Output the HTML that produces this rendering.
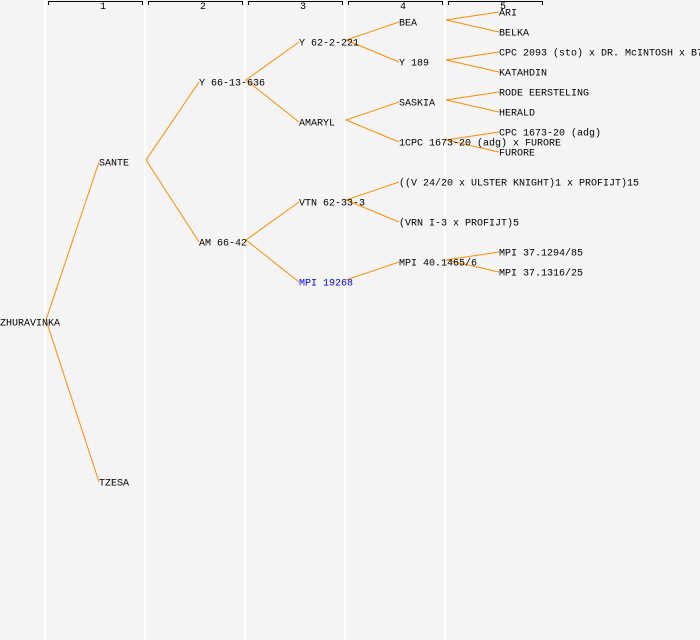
<!DOCTYPE html>
<html><head><meta charset="utf-8"><style>
html,body{margin:0;padding:0;background:#f4f4f4;}
svg{display:block;}
text{font-family:"Liberation Mono",monospace;font-size:10px;fill:#000;}
</style></head><body>
<svg width="700" height="640" viewBox="0 0 700 640">
<rect width="700" height="640" fill="#f4f4f4"/>
<g stroke="#fff" stroke-width="2">
<line x1="45" y1="0" x2="45" y2="640"/><line x1="145" y1="0" x2="145" y2="640"/>
<line x1="245" y1="0" x2="245" y2="640"/><line x1="345" y1="0" x2="345" y2="640"/>
<line x1="445" y1="0" x2="445" y2="640"/>
</g>
<g stroke="#000" stroke-width="1" fill="none">
<path d="M48.5 5V1.5H142.5V5"/><path d="M148.5 5V1.5H242.5V5"/><path d="M248.5 5V1.5H342.5V5"/>
<path d="M348.5 5V1.5H442.5V5"/><path d="M448.5 5V1.5H542.5V5"/>
</g>
<g style="font-size:8px">
<text x="100" y="9">1</text><text x="200" y="9">2</text><text x="300" y="9">3</text><text x="400" y="9">4</text><text x="500" y="9">5</text>
</g>
<g stroke="#ff8c00" stroke-width="1" fill="none">
<path d="M99 162L46 320L99 482"/>
<path d="M199 82L146 160L199 242"/>
<path d="M299 42L246 80L299 122"/>
<path d="M299 202L246 240L299 282"/>
<path d="M399 22L346 40L399 62"/>
<path d="M399 102L346 120L399 142"/>
<path d="M399 182L346 200L399 222"/>
<path d="M399 262L346 280"/>
<path d="M499 12L446 20L499 32"/>
<path d="M499 52L446 60L499 72"/>
<path d="M499 92L446 100L499 112"/>
<path d="M499 132L446 140L499 152"/>
<path d="M499 252L446 260L499 272"/>
</g>
<g dominant-baseline="middle">
<text x="0" y="323">ZHURAVINKA</text>
<text x="99" y="163">SANTE</text>
<text x="99" y="483">TZESA</text>
<text x="199" y="83">Y 66-13-636</text>
<text x="199" y="243">AM 66-42</text>
<text x="299" y="43">Y 62-2-221</text>
<text x="299" y="123">AMARYL</text>
<text x="299" y="203">VTN 62-33-3</text>
<text x="299" y="283" style="fill:#0000ff">MPI 19268</text>
<text x="399" y="23">BEA</text>
<text x="399" y="63">Y 189</text>
<text x="399" y="103">SASKIA</text>
<text x="399" y="143">1CPC 1673-20 (adg) x FURORE</text>
<text x="399" y="183">((V 24/20 x ULSTER KNIGHT)1 x PROFIJT)15</text>
<text x="399" y="223">(VRN I-3 x PROFIJT)5</text>
<text x="399" y="263">MPI 40.1465/6</text>
<text x="499" y="13">ARI</text>
<text x="499" y="33">BELKA</text>
<text x="499" y="53">CPC 2093 (sto) x DR. McINTOSH x B7</text>
<text x="499" y="73">KATAHDIN</text>
<text x="499" y="93">RODE EERSTELING</text>
<text x="499" y="113">HERALD</text>
<text x="499" y="133">CPC 1673-20 (adg)</text>
<text x="499" y="153">FURORE</text>
<text x="499" y="253">MPI 37.1294/85</text>
<text x="499" y="273">MPI 37.1316/25</text>
</g>
</svg>
</body></html>
